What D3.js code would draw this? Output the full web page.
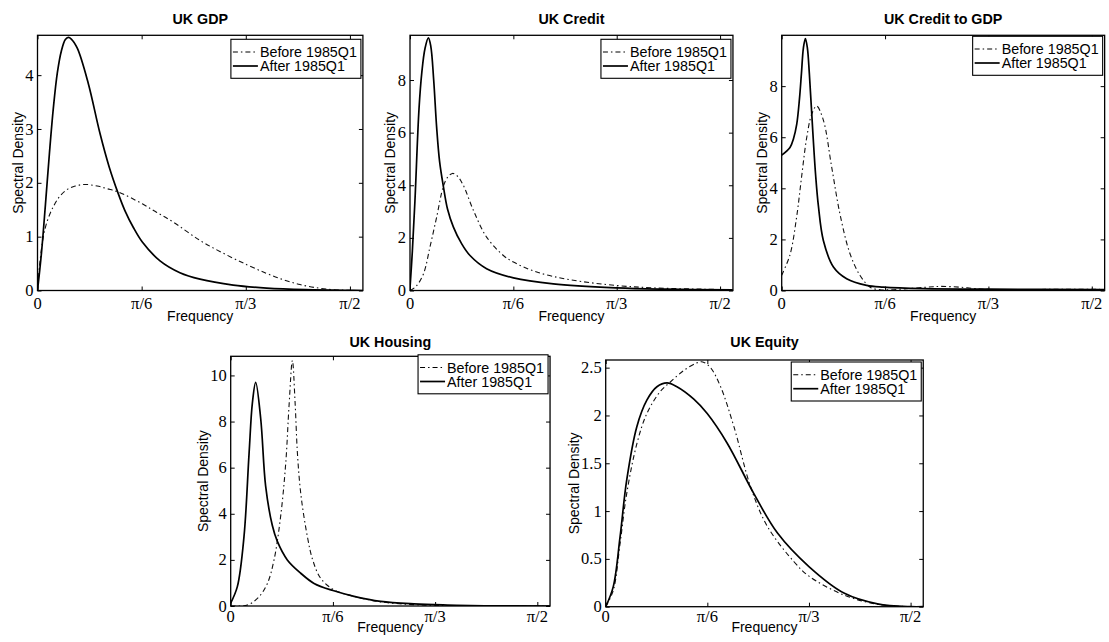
<!DOCTYPE html>
<html>
<head>
<meta charset="utf-8">
<script src="https://cdn.jsdelivr.net/npm/d3@7"></script>
<style>
  body { margin: 0; background: #fff; }
  svg { display: block; }
</style>
</head>
<body>
<svg id="chart" width="1109" height="642"></svg>
<script>
// ---------------- data ----------------
const titles = ["UK GDP", "UK Credit", "UK Credit to GDP", "UK Housing", "UK Equity"];
const legendLabels = ["Before 1985Q1", "After 1985Q1"];
const xLabel = "Frequency";
const yLabel = "Spectral Density";
const xTickValues = [0, Math.PI / 6, Math.PI / 3, Math.PI / 2];
const xTickLabels = ["0", "\u03C0/6", "\u03C0/3", "\u03C0/2"];
const xMax = 1.636;
const yMaxes = [4.74, 9.70, 9.99, 10.83, 2.58];
const yTicks = [
  [0, 1, 2, 3, 4],
  [0, 2, 4, 6, 8],
  [0, 2, 4, 6, 8],
  [0, 2, 4, 6, 8, 10],
  [0, 0.5, 1, 1.5, 2, 2.5]
];

// [frequency (rad), spectral density]
const gdpBefore = [[0,0],[0.01,0.45],[0.029,0.99],[0.05,1.3],[0.08,1.56],[0.11,1.74],[0.147,1.87],[0.19,1.94],[0.239,1.97],[0.3,1.94],[0.35,1.89],[0.406,1.83],[0.527,1.61],[0.6,1.45],[0.683,1.27],[0.817,0.93],[0.93,0.7],[1.052,0.48],[1.15,0.32],[1.236,0.2],[1.32,0.11],[1.404,0.05],[1.487,0.015],[1.571,0.002],[1.636,0]];
const gdpAfter = [[0,0],[0.02,0.7],[0.04,1.6],[0.06,2.55],[0.08,3.4],[0.1,4.05],[0.12,4.45],[0.14,4.66],[0.155,4.7],[0.17,4.67],[0.2,4.5],[0.255,3.85],[0.314,2.92],[0.36,2.3],[0.406,1.8],[0.44,1.48],[0.482,1.17],[0.527,0.9],[0.616,0.55],[0.716,0.33],[0.817,0.21],[0.984,0.1],[1.152,0.045],[1.35,0.015],[1.571,0.002],[1.636,0]];
const creditBefore = [[0,0],[0.03,0.15],[0.068,0.63],[0.101,1.65],[0.135,2.79],[0.169,3.96],[0.19,4.3],[0.215,4.45],[0.24,4.35],[0.27,4.0],[0.321,3.05],[0.388,2.03],[0.473,1.33],[0.524,1.08],[0.642,0.7],[0.81,0.41],[1.047,0.19],[1.233,0.1],[1.486,0.05],[1.636,0.03]];
const creditAfter = [[0,0.1],[0.012,1.5],[0.025,3.4],[0.0456,6.9],[0.06,8.3],[0.076,9.2],[0.093,9.6],[0.105,9.3],[0.12,8.0],[0.135,6.2],[0.15,4.9],[0.169,3.96],[0.19,3.1],[0.22,2.41],[0.26,1.8],[0.304,1.33],[0.388,0.83],[0.524,0.48],[0.726,0.25],[1.047,0.1],[1.3,0.05],[1.636,0.02]];
const creditGdpBefore = [[0,0.6],[0.042,1.4],[0.076,2.9],[0.1,4.4],[0.127,6.0],[0.152,6.9],[0.177,7.22],[0.211,6.67],[0.253,4.84],[0.295,3.0],[0.346,1.44],[0.397,0.59],[0.448,0.13],[0.498,0.03],[0.55,0.03],[0.633,0.07],[0.734,0.13],[0.802,0.16],[0.903,0.13],[1.004,0.06],[1.1,0.03],[1.2,0.03],[1.3,0.04],[1.45,0.05],[1.636,0.04]];
const creditGdpAfter = [[0,5.3],[0.042,5.6],[0.06,5.95],[0.076,6.5],[0.09,7.5],[0.1,8.5],[0.11,9.5],[0.12,9.86],[0.13,9.5],[0.14,8.5],[0.158,6.16],[0.172,4.5],[0.186,3.3],[0.211,1.96],[0.262,0.92],[0.329,0.46],[0.43,0.2],[0.515,0.13],[0.718,0.07],[1.047,0.05],[1.636,0.04]];
const housingBefore = [[0,0],[0.085,0.04],[0.145,0.4],[0.188,0.98],[0.222,2.0],[0.256,3.9],[0.282,6.2],[0.299,8.7],[0.316,10.65],[0.33,8.8],[0.342,6.6],[0.36,4.8],[0.393,3.0],[0.42,2.0],[0.461,1.2],[0.529,0.7],[0.632,0.42],[0.768,0.18],[0.939,0.06],[1.11,0.02],[1.636,0]];
const housingAfter = [[0,0.13],[0.034,0.84],[0.068,3.0],[0.094,6.6],[0.111,8.8],[0.128,9.7],[0.154,8.1],[0.179,5.2],[0.213,3.5],[0.239,2.8],[0.29,2.0],[0.359,1.42],[0.427,0.98],[0.524,0.67],[0.632,0.42],[0.768,0.2],[0.939,0.09],[1.11,0.04],[1.3,0.01],[1.636,0]];
const equityBefore = [[0,0],[0.039,0.17],[0.074,0.66],[0.108,1.18],[0.16,1.7],[0.212,2.02],[0.281,2.25],[0.333,2.35],[0.402,2.47],[0.47,2.55],[0.5,2.56],[0.54,2.5],[0.592,2.3],[0.661,1.88],[0.747,1.25],[0.833,0.84],[0.97,0.47],[1.047,0.32],[1.23,0.12],[1.4,0.025],[1.571,0],[1.636,0]];
const equityAfter = [[0,0],[0.039,0.21],[0.074,0.73],[0.108,1.32],[0.16,1.88],[0.212,2.16],[0.264,2.3],[0.316,2.34],[0.367,2.3],[0.454,2.17],[0.523,2.02],[0.626,1.71],[0.764,1.18],[0.885,0.77],[1.047,0.42],[1.23,0.14],[1.4,0.03],[1.571,0],[1.636,0]];

const beforeSeries = [gdpBefore, creditBefore, creditGdpBefore, housingBefore, equityBefore];
const afterSeries = [gdpAfter, creditAfter, creditGdpAfter, housingAfter, equityAfter];

// ---------------- layout ----------------
const panels = [
  { L: 37.5,  T: 35.3, B: 290.5, scale: 198.9, legDy: 4,  titleY: 24,    xlabY: 320.5, tickY: 308.5 },
  { L: 410,   T: 35.3, B: 290.5, scale: 197.4, legDy: 4,  titleY: 24,    xlabY: 320.5, tickY: 308.5 },
  { L: 781.7, T: 35.3, B: 290.5, scale: 197.4, legDy: 1,  titleY: 24,    xlabY: 320.5, tickY: 308.5 },
  { L: 230.7, T: 356.3, B: 606,  scale: 195.2, legDy: -1.5, titleY: 346.5, xlabY: 632.3, tickY: 622 },
  { L: 605.7, T: 360,  B: 606.7, scale: 194.1, legDy: 2,  titleY: 346.5, xlabY: 632.3, tickY: 622 }
];

const SANS = "'Liberation Sans', Arial, Helvetica, sans-serif";
const SERIF = "'Liberation Serif', 'Times New Roman', Times, serif";

const svg = d3.select("#chart");
svg.append("rect").attr("width", 1109).attr("height", 642).attr("fill", "#fff");

panels.forEach((p, i) => {
  const R = p.L + p.scale * xMax;
  const x = d3.scaleLinear().domain([0, xMax]).range([p.L, R]);
  const y = d3.scaleLinear().domain([0, yMaxes[i]]).range([p.B, p.T]);
  const g = svg.append("g");

  const clipId = "clip" + i;
  g.append("clipPath").attr("id", clipId).append("rect")
    .attr("x", p.L).attr("y", p.T - 1).attr("width", R - p.L).attr("height", p.B - p.T + 1);

  const line = d3.line().x(d => x(d[0])).y(d => y(Math.max(0, d[1]))).curve(d3.curveCatmullRom.alpha(0.5));

  g.append("path").datum(beforeSeries[i])
    .attr("clip-path", `url(#${clipId})`)
    .attr("fill", "none").attr("stroke", "#111").attr("stroke-width", 1.1)
    .attr("stroke-dasharray", "5,3,1.5,3")
    .attr("d", line);
  g.append("path").datum(afterSeries[i])
    .attr("clip-path", `url(#${clipId})`)
    .attr("fill", "none").attr("stroke", "#000").attr("stroke-width", 1.7)
    .attr("d", line);

  // axes (inward ticks, mirrored)
  const tickLen = 4;
  const axB = d3.axisBottom(x).tickValues(xTickValues).tickSizeInner(-tickLen).tickSizeOuter(0).tickFormat("");
  const axT = d3.axisTop(x).tickValues(xTickValues).tickSizeInner(-tickLen).tickSizeOuter(0).tickFormat("");
  const axL = d3.axisLeft(y).tickValues(yTicks[i]).tickSizeInner(-tickLen).tickSizeOuter(0).tickFormat("");
  const axR = d3.axisRight(y).tickValues(yTicks[i]).tickSizeInner(-tickLen).tickSizeOuter(0).tickFormat("");
  [[axB, `translate(0,${p.B})`], [axT, `translate(0,${p.T})`], [axL, `translate(${p.L},0)`], [axR, `translate(${R},0)`]]
    .forEach(([ax, tr]) => {
      const a = g.append("g").attr("transform", tr).call(ax);
      a.select(".domain").remove();
      a.selectAll("line").attr("stroke", "#000").attr("stroke-width", 1);
    });

  g.append("rect").attr("x", p.L).attr("y", p.T).attr("width", R - p.L).attr("height", p.B - p.T)
    .attr("fill", "none").attr("stroke", "#000").attr("stroke-width", 1.3);

  // tick labels
  g.selectAll(".xt").data(xTickValues).enter().append("text")
    .attr("x", d => x(d)).attr("y", p.tickY)
    .attr("text-anchor", "middle")
    .style("font-family", SERIF).style("font-size", "16.5px")
    .text((d, j) => xTickLabels[j]);
  const yl = g.selectAll(".yt").data(yTicks[i]).enter().append("text")
    .attr("x", p.L - 4).attr("y", d => y(d)).attr("dy", "0.34em")
    .attr("text-anchor", "end")
    .style("font-family", SERIF).style("font-size", "16.5px")
    .text(d => d3.format("")(d));
  let maxW = 0;
  yl.each(function () { maxW = Math.max(maxW, this.getComputedTextLength()); });

  // axis labels and title
  g.append("text").attr("x", (p.L + R) / 2).attr("y", p.xlabY)
    .attr("text-anchor", "middle").style("font-family", SANS).style("font-size", "14px")
    .text(xLabel);
  const ylx = p.L - 4 - maxW - 2.5;
  g.append("text").attr("transform", `translate(${ylx},${(p.T + p.B) / 2}) rotate(-90)`)
    .attr("text-anchor", "middle").style("font-family", SANS).style("font-size", "14px")
    .text(yLabel);
  g.append("text").attr("x", (p.L + R) / 2).attr("y", p.titleY)
    .attr("text-anchor", "middle").style("font-family", SANS).style("font-size", "14.3px")
    .style("font-weight", "bold").text(titles[i]);

  // legend
  const lw = 130, lh = 39;
  const lx = R - 2 - lw, ly = p.T + p.legDy;
  const lg = g.append("g").attr("transform", `translate(${lx},${ly})`);
  lg.append("rect").attr("width", lw).attr("height", lh).attr("fill", "#fff")
    .attr("stroke", "#000").attr("stroke-width", 1.1);
  [0, 1].forEach(k => {
    const cy = 12.7 + k * 14;
    lg.append("line").attr("x1", 2).attr("x2", 27).attr("y1", cy).attr("y2", cy)
      .attr("stroke", "#000").attr("stroke-width", k === 0 ? 1.1 : 1.7)
      .attr("stroke-dasharray", k === 0 ? "5,3,1.5,3" : null);
    lg.append("text").attr("x", 29).attr("y", cy).attr("dy", "0.36em")
      .style("font-family", SANS).style("font-size", "14.3px")
      .text(legendLabels[k]);
  });
});
</script>
</body>
</html>
